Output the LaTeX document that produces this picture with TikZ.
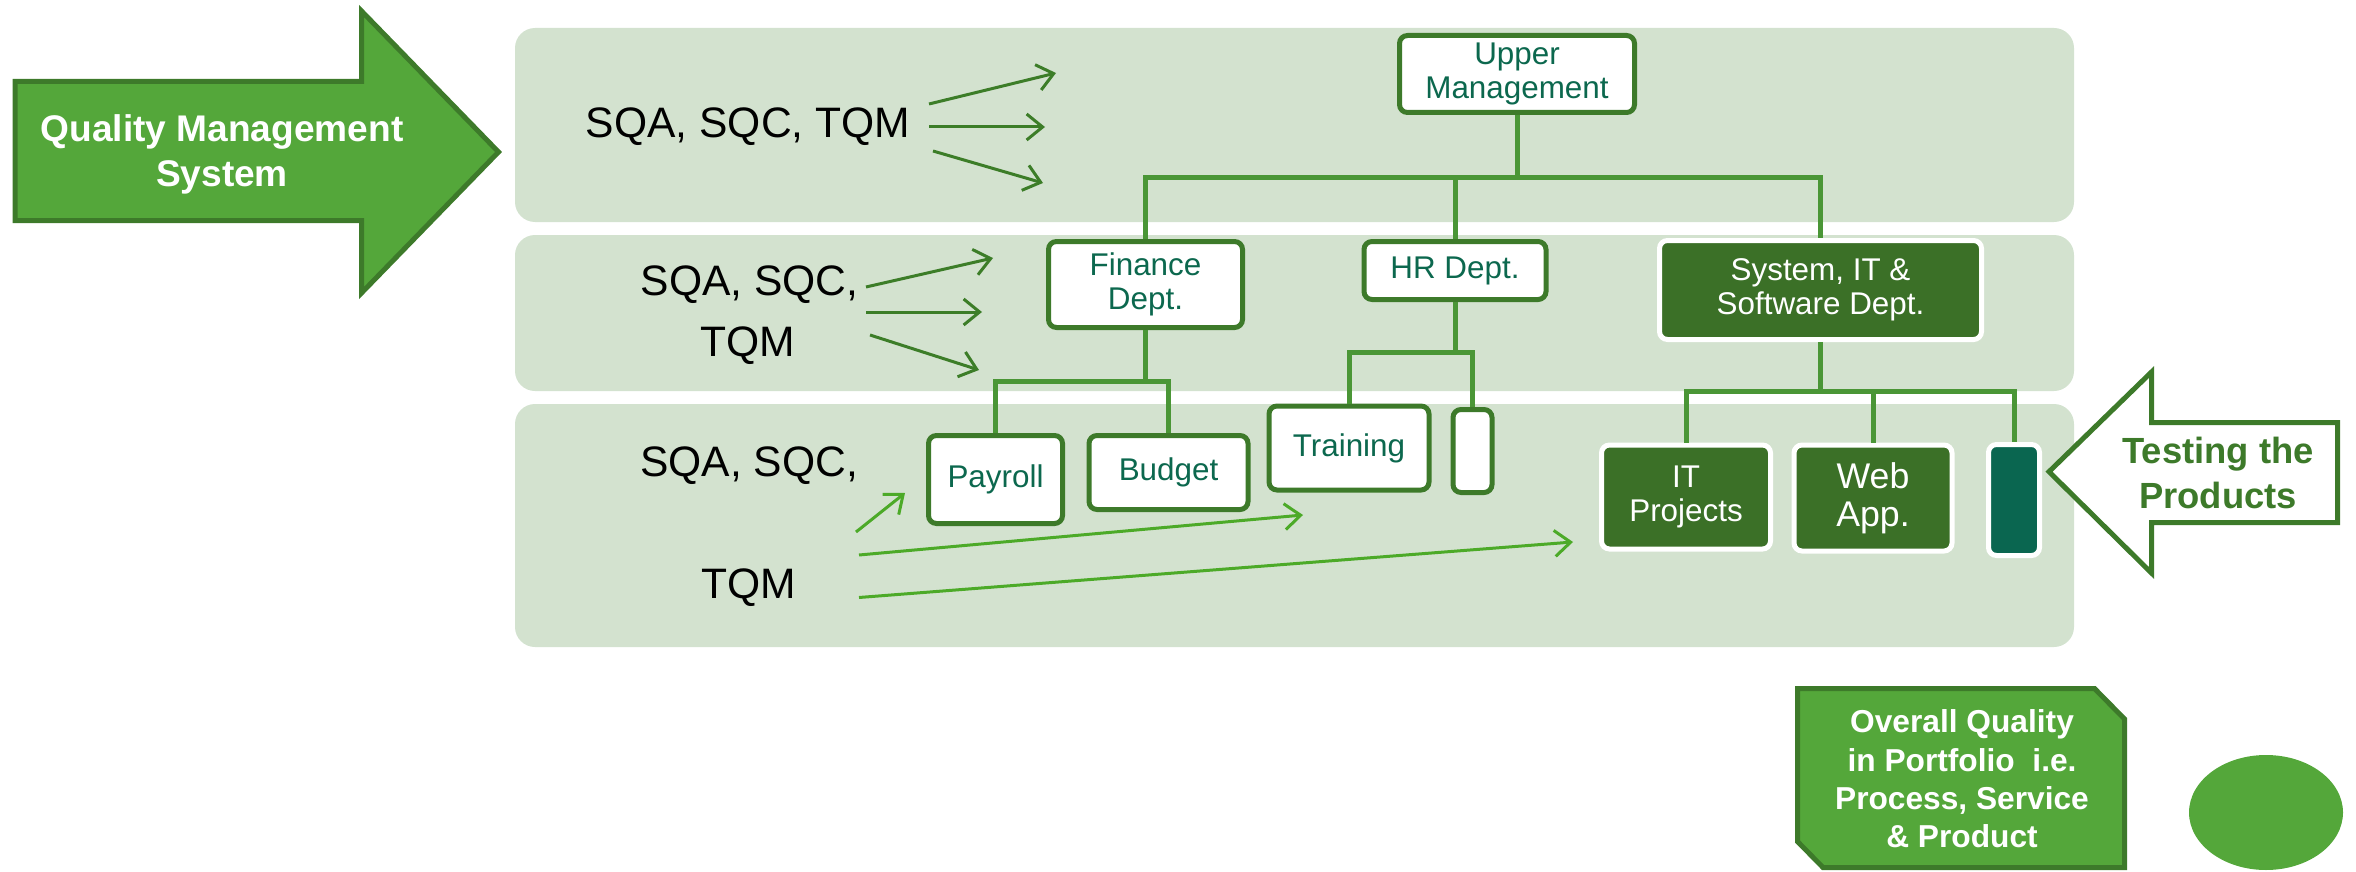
\documentclass[tikz,border=0pt]{standalone}
\usepackage{fontspec}
\setmainfont{Liberation Sans}
\usetikzlibrary{arrows.meta}

\newcommand{\myfs}[2]{\fontsize{#1pt}{#2pt}\selectfont}

\definecolor{bandfill}{HTML}{D3E2CF}
\definecolor{leaf}{HTML}{54A73A}
\definecolor{forest}{HTML}{3D7A2A}
\definecolor{deepbox}{HTML}{3B7027}
\definecolor{tealbox}{HTML}{0A6650}
\definecolor{tealtext}{HTML}{0C684E}
\definecolor{linkgreen}{HTML}{4A9636}
\definecolor{flowdark}{HTML}{3C7D28}
\definecolor{flowbright}{HTML}{4CAA28}

\tikzset{
  band/.style={fill=bandfill, rounded corners=20pt},
  whitebox/.style={draw=forest, line width=5pt, fill=white, rounded corners=8pt,
    inner sep=0pt, align=center, text=tealtext, font=\myfs{31.4}{34}},
  darkbox/.style={draw=white, line width=5pt, fill=deepbox, rounded corners=8pt,
    inner sep=0pt, align=center, text=white, font=\myfs{31.4}{34}},
  conn/.style={draw=linkgreen, line width=5pt},
  flow/.style={draw=flowdark, line width=3pt,
    -{Straight Barb[length=16pt,width=26pt]}},
  flowb/.style={flow, draw=flowbright},
  qlabel/.style={font=\myfs{42.6}{51}, anchor=base, text=black, inner sep=0pt},
}

\begin{document}
\begin{tikzpicture}[x=1pt, y=-1pt]
\useasboundingbox (0,0) rectangle (2356,872);

% three level bands
\fill[band] (515,28) rectangle (2074,222);
\fill[band] (515,235) rectangle (2074,391);
\fill[band] (515,404) rectangle (2074,647);

% incoming block arrow
\draw[fill=leaf, draw=forest, line width=5pt, line join=miter]
  (15,81.5) -- (361.5,81.5) -- (361.5,11) -- (498.5,152) -- (361.5,293)
  -- (361.5,220.5) -- (15,220.5) -- cycle;
\node[font=\bfseries\myfs{37.1}{45}, text=white, align=center, inner sep=0pt]
  (qms) at (222,154) {Quality Management\\System};

% quality labels
\node[qlabel] (t1) at (748,138) {SQA, SQC, TQM};
\node[qlabel] (t2a) at (749.5,295) {SQA, SQC,};
\node[qlabel] (t2b) at (748,356) {TQM};
\node[qlabel] (t3a) at (749,476.7) {SQA, SQC,};
\node[qlabel] (t3b) at (749,598) {TQM};

% organisation boxes
\node[whitebox, minimum width=235pt, minimum height=77pt] (um) at (1517,74) {Upper\\Management};
\node[whitebox, minimum width=194pt, minimum height=86pt] (fin) at (1145.5,284.5) {Finance\\Dept.};
\node[whitebox, minimum width=182pt, minimum height=58pt] (hr) at (1455,270.5) {HR Dept.};
\node[darkbox, minimum width=322pt, minimum height=99pt] (sys) at (1820.5,290) {System, IT \&\\Software Dept.};
\node[whitebox, minimum width=134pt, minimum height=88pt] (pay) at (995.5,479.5) {Payroll};
\node[whitebox, minimum width=159pt, minimum height=74pt] (bud) at (1168.5,472.5) {Budget};
\node[whitebox, minimum width=160pt, minimum height=84pt] (trn) at (1349,448) {Training};
\node[whitebox, minimum width=39pt, minimum height=83pt] (hrx) at (1472.5,451) {};
\node[darkbox, minimum width=169pt, minimum height=104pt] (itp) at (1686,497) {IT\\Projects};
\node[darkbox, minimum width=158pt, minimum height=106pt, font=\myfs{35.7}{38}] (web) at (1873,498) {Web\\App.};
\node[darkbox, fill=tealbox, minimum width=51pt, minimum height=111pt] (sysx) at (2014,500) {};

% hierarchy connectors
\coordinate (j1) at (1517,177);
\coordinate (j2) at (1145.5,381);
\coordinate (j3) at (1455,352);
\coordinate (j4) at (1820.5,391);
\draw[conn] (um.south) -- (j1);
\draw[conn] (fin.north) -- (fin.north |- j1) -- (sys.north |- j1) -- (sys.north);
\draw[conn] (hr.north) -- (hr.north |- j1);
\draw[conn] (fin.south) -- (j2);
\draw[conn] (pay.north) -- (pay.north |- j2) -- (bud.north |- j2) -- (bud.north);
\draw[conn] (hr.south) -- (j3);
\draw[conn] (trn.north) -- (trn.north |- j3) -- (hrx.north |- j3) -- (hrx.north);
\draw[conn] (sys.south) -- (j4);
\draw[conn] (itp.north) -- (itp.north |- j4) -- (sysx.north |- j4) -- (sysx.north);
\draw[conn] (web.north) -- (web.north |- j4);

% flow arrows, top band
\coordinate (a1s) at (929,104);   \coordinate (a1e) at (1056,73);
\coordinate (a2s) at (929,127);   \coordinate (a2e) at (1045,127);
\coordinate (a3s) at (933,151);   \coordinate (a3e) at (1043,183);
\draw[flow] (a1s) -- (a1e);
\draw[flow] (a2s) -- (a2e);
\draw[flow] (a3s) -- (a3e);

% flow arrows, middle band
\coordinate (b1s) at (866,287);   \coordinate (b1e) at (993,258);
\coordinate (b2s) at (866,312);   \coordinate (b2e) at (982,312);
\coordinate (b3s) at (870,335);   \coordinate (b3e) at (979,370);
\draw[flow] (b1s) -- (b1e);
\draw[flow] (b2s) -- (b2e);
\draw[flow] (b3s) -- (b3e);

% flow arrows, bottom band
\coordinate (c1s) at (856,532);   \coordinate (c1e) at (905,493);
\coordinate (c2s) at (859,555);   \coordinate (c2e) at (1303,515);
\coordinate (c3s) at (859,597.5); \coordinate (c3e) at (1573,542);
\draw[flowb] (c1s) -- (c1e);
\draw[flowb] (c2s) -- (c2e);
\draw[flowb] (c3s) -- (c3e);

% outlined arrow pointing at the products
\draw[fill=white, draw=forest, line width=5pt, line join=miter]
  (2049,471.7) -- (2151.5,372) -- (2151.5,422.5) -- (2337.5,422.5)
  -- (2337.5,522.5) -- (2151.5,522.5) -- (2151.5,573) -- cycle;
\node[font=\bfseries\myfs{36.4}{45}, text=forest, align=center, inner sep=0pt]
  (tst) at (2218,472.5) {Testing the\\Products};

% outcome box with snipped corners
\draw[fill=leaf, draw=forest, line width=5pt, line join=miter]
  (1797.5,688.5) -- (2094.5,688.5) -- (2124.5,719) -- (2124.5,867.5)
  -- (1823,867.5) -- (1797.5,841.5) -- cycle;
\node[font=\bfseries\myfs{31.7}{38.3}, text=white, align=center, inner sep=0pt]
  (ovq) at (1962,779) {Overall Quality\\in Portfolio\ \ i.e.\\Process, Service\\\& Product};

% round marker
\fill[leaf] (2266,812.5) ellipse [x radius=77, y radius=57.5];
\end{tikzpicture}
\end{document}
